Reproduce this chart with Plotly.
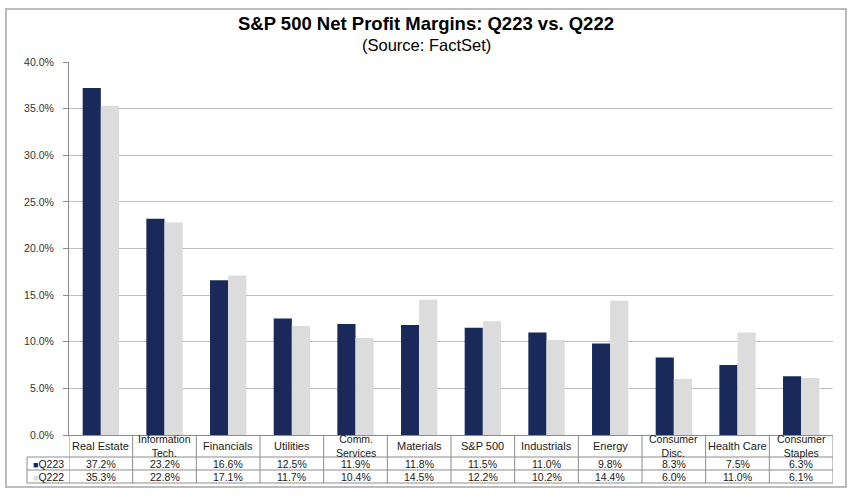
import plotly.graph_objects as go

categories = ["Real Estate", "Information<br>Tech.", "Financials", "Utilities", "Comm.<br>Services",
              "Materials", "S&P 500", "Industrials", "Energy", "Consumer<br>Disc.", "Health Care",
              "Consumer<br>Staples"]
q223 = [37.2, 23.2, 16.6, 12.5, 11.9, 11.8, 11.5, 11.0, 9.8, 8.3, 7.5, 6.3]
q222 = [35.3, 22.8, 17.1, 11.7, 10.4, 14.5, 12.2, 10.2, 14.4, 6.0, 11.0, 6.1]
series_names = ["Q223", "Q222"]
y_ticks = [0, 5, 10, 15, 20, 25, 30, 35, 40]

DARK = "#18295A"
LIGHT = "#DCDCDC"
LINE = "#8C8C8C"
FONT = "Liberation Sans, Arial, sans-serif"

W, H = 855, 496
L, R, T, B = 69, 833, 62, 435  # plot area pixels


def px(x):
    return (x - L) / (R - L)


def py(y):
    return (B - y) / (B - T)


x_idx = list(range(len(categories)))

fig = go.Figure()
fig.add_trace(go.Bar(x=x_idx, y=q223, name=series_names[0], marker_color=DARK, marker_line_width=0))
fig.add_trace(go.Bar(x=x_idx, y=q222, name=series_names[1], marker_color=LIGHT, marker_line_width=0))

shapes = []
annotations = []

shapes.append(dict(type="rect", xref="paper", yref="paper", x0=px(6), x1=px(846), y0=py(487), y1=py(9),
                   line=dict(color="#A6A6A6", width=1.5), fillcolor="rgba(0,0,0,0)", layer="below"))

row_y = [B, 457, 470, 483]
for yv in row_y[1:]:
    shapes.append(dict(type="line", xref="paper", yref="paper", x0=px(27), x1=px(R), y0=py(yv), y1=py(yv),
                       line=dict(color=LINE, width=1)))
n = len(categories)
for i in range(n + 1):
    xv = i - 0.5
    shapes.append(dict(type="line", xref="x", yref="paper", x0=xv, x1=xv, y0=py(483), y1=py(B),
                       line=dict(color=LINE, width=1)))
shapes.append(dict(type="line", xref="paper", yref="paper", x0=px(27), x1=px(27), y0=py(483), y1=py(457),
                   line=dict(color=LINE, width=1)))

TXT = "#1a1a1a"
for i, c in enumerate(categories):
    annotations.append(dict(x=i, y=py(446.5), xref="x", yref="paper", text=c, showarrow=False,
                            font=dict(size=10.5 if "<br>" in c else 11, color=TXT, family=FONT),
                            xanchor="center", yanchor="middle"))
    annotations.append(dict(x=i, y=py(463.5), xref="x", yref="paper", text=f"{q223[i]:.1f}%", showarrow=False,
                            font=dict(size=10.5, color=TXT, family=FONT), xanchor="center", yanchor="middle"))
    annotations.append(dict(x=i, y=py(476.5), xref="x", yref="paper", text=f"{q222[i]:.1f}%", showarrow=False,
                            font=dict(size=10.5, color=TXT, family=FONT), xanchor="center", yanchor="middle"))

for name, col, yv in [(series_names[0], DARK, 463.5), (series_names[1], LIGHT, 476.5)]:
    annotations.append(dict(x=px(48), y=py(yv), xref="paper", yref="paper",
                            text=f"<span style='color:{col};font-size:9px'>■</span>{name}", showarrow=False,
                            font=dict(size=10.5, color=TXT, family=FONT), xanchor="center", yanchor="middle"))

annotations.append(dict(x=px(426), y=py(24), xref="paper", yref="paper",
                        text="<b>S&P 500 Net Profit Margins: Q223 vs. Q222</b>", showarrow=False,
                        font=dict(size=18.5, color="#000", family=FONT), xanchor="center", yanchor="middle"))
annotations.append(dict(x=px(426), y=py(45), xref="paper", yref="paper",
                        text="(Source: FactSet)", showarrow=False,
                        font=dict(size=16.5, color="#000", family=FONT), xanchor="center", yanchor="middle"))

fig.update_layout(
    width=W, height=H,
    margin=dict(l=L, r=W - R, t=T, b=H - B),
    paper_bgcolor="white", plot_bgcolor="white",
    barmode="group", bargap=0.43, bargroupgap=0,
    showlegend=False,
    shapes=shapes, annotations=annotations,
    font=dict(family=FONT),
)
fig.update_xaxes(range=[-0.5, n - 0.5], showticklabels=False, showgrid=False, zeroline=False,
                 showline=True, linecolor=LINE, linewidth=1, ticks="")
fig.update_yaxes(range=[0, 40], tickvals=y_ticks, ticktext=[f"{v:.1f}%" for v in y_ticks],
                 showgrid=True, gridcolor="#BFBFBF", gridwidth=1.2, zeroline=False,
                 showline=True, linecolor=LINE, linewidth=1, ticks="outside", ticklen=5, tickcolor=LINE,
                 ticklabelstandoff=7,
                 tickfont=dict(size=10.5, color="#333", family=FONT))

fig.write_html("out.html", config={"displayModeBar": False},
               post_script="document.body.style.margin='0';")
